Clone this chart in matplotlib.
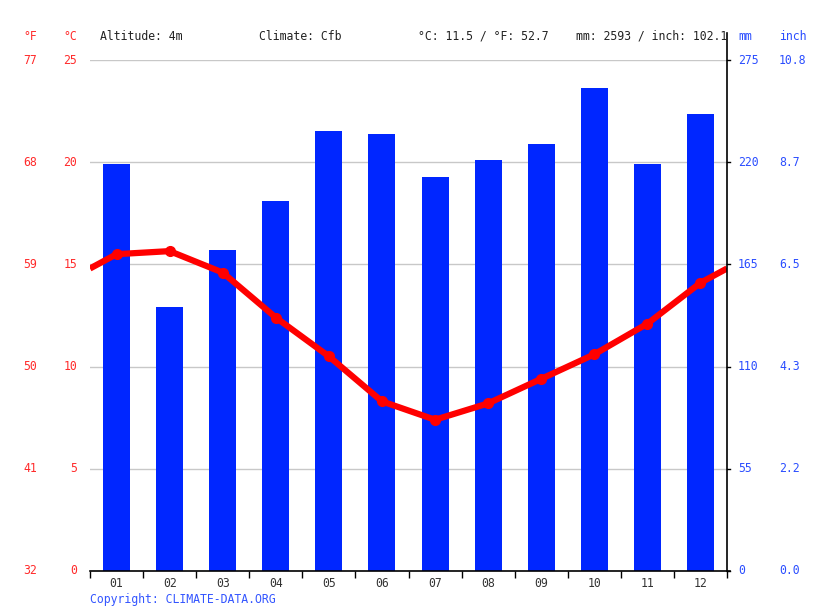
import matplotlib
matplotlib.use("Agg")
import matplotlib.pyplot as plt
import matplotlib.transforms as mtransforms

months = ["01", "02", "03", "04", "05", "06", "07", "08", "09", "10", "11", "12"]
precip_mm = [219, 142, 173, 199, 237, 235, 212, 221, 230, 260, 219, 246]
temp_c = [15.5, 15.65, 14.6, 12.4, 10.5, 8.3, 7.4, 8.2, 9.4, 10.6, 12.1, 14.1]
c_ticks = [0, 5, 10, 15, 20, 25]
f_labels = ["32", "41", "50", "59", "68", "77"]
mm_labels = ["0", "55", "110", "165", "220", "275"]
inch_labels = ["0.0", "2.2", "4.3", "6.5", "8.7", "10.8"]
header_alt = "Altitude: 4m"
header_clim = "Climate: Cfb"
header_temp = "°C: 11.5 / °F: 52.7"
header_prec = "mm: 2593 / inch: 102.1"

FONT = "DejaVu Sans Mono"
FS = 8.3
RED = "#ff2a2a"
BLUE_T = "#2a4dff"
BAR = "#0026ff"
W, H = 815, 611
fig = plt.figure(figsize=(W / 100, H / 100), dpi=100)
L, R, T, B = 90, 727, 60, 571
ax = fig.add_axes([L / W, (H - B) / H, (R - L) / W, (B - T) / H])
ax2 = ax.twinx()
ax.set_zorder(2)
ax2.set_zorder(1)
ax.patch.set_visible(False)

x = [i + 0.5 for i in range(12)]
ax2.bar(x, precip_mm, width=0.51, color=BAR, zorder=3)
ax2.set_ylim(0, 275)
ax2.set_yticks([])
for v in c_ticks:
    ax2.axhline(v * 11, color="#c8c8c8", lw=1, zorder=1)

edge = (temp_c[0] + temp_c[-1]) / 2
lx = [0] + x + [12]
ly = [edge] + temp_c + [edge]
ax.plot(lx, ly, color="#ff0000", lw=4.5, solid_capstyle="butt", zorder=4)
ax.plot(x, temp_c, "o", color="#ff0000", ms=7, zorder=5)
ax.set_xlim(0, 12)
ax.set_ylim(0, 25)
ax2.set_xlim(0, 12)

for a in (ax, ax2):
    for s in ("left", "top", "right", "bottom"):
        a.spines[s].set_visible(False)

# bottom axis line and ticks
ax.set_xticks(range(13))
ax.set_xticklabels([])
ax.tick_params(axis="x", length=5, width=1, color="black", direction="out")
ax.set_xticks(x, minor=True)
ax.set_xticklabels(months, minor=True, fontsize=FS, color="#333333", family=FONT)
ax.tick_params(axis="x", which="minor", length=0, pad=4)
ax.set_yticks([])
ax.plot([0, 12.06], [0, 0], color="black", lw=1.2, clip_on=False, zorder=6)
# right spine extended upward
trans_r = mtransforms.blended_transform_factory(ax.transData, fig.transFigure)
ax.plot([12, 12], [(H - B) / H, (H - 33) / H], color="black", lw=1.2,
        transform=trans_r, clip_on=False, zorder=6)

# tick labels
fx = lambda px: px / W
ty = mtransforms.blended_transform_factory(fig.transFigure, ax.transData)
for c, f, m, i in zip(c_ticks, f_labels, mm_labels, inch_labels):
    fig.text(fx(37), c, f, transform=ty, ha="right", va="center", color=RED, fontsize=FS, family=FONT)
    fig.text(fx(77), c, str(c), transform=ty, ha="right", va="center", color=RED, fontsize=FS, family=FONT)
    fig.text(fx(738), c, m, transform=ty, ha="left", va="center", color=BLUE_T, fontsize=FS, family=FONT)
    fig.text(fx(779), c, i, transform=ty, ha="left", va="center", color=BLUE_T, fontsize=FS, family=FONT)
    ax.plot([12, 12.06], [c, c], color="black", lw=1, clip_on=False, zorder=6)

hy = 1 - 36 / H
fig.text(fx(37), hy, "°F", ha="right", va="center", color=RED, fontsize=FS, family=FONT)
fig.text(fx(77), hy, "°C", ha="right", va="center", color=RED, fontsize=FS, family=FONT)
fig.text(fx(738), hy, "mm", ha="left", va="center", color=BLUE_T, fontsize=FS, family=FONT)
fig.text(fx(779), hy, "inch", ha="left", va="center", color=BLUE_T, fontsize=FS, family=FONT)
fig.text(fx(100), hy, header_alt, ha="left", va="center", color="#222222", fontsize=FS, family=FONT)
fig.text(fx(259), hy, header_clim, ha="left", va="center", color="#222222", fontsize=FS, family=FONT)
fig.text(fx(418), hy, header_temp, ha="left", va="center", color="#222222", fontsize=FS, family=FONT)
fig.text(fx(576), hy, header_prec, ha="left", va="center", color="#222222", fontsize=FS, family=FONT)
fig.text(fx(90), 1 - 599 / H, "Copyright: CLIMATE-DATA.ORG", ha="left", va="center",
         color="#3355ff", fontsize=FS, family=FONT)

fig.savefig("out.png", dpi=100)
